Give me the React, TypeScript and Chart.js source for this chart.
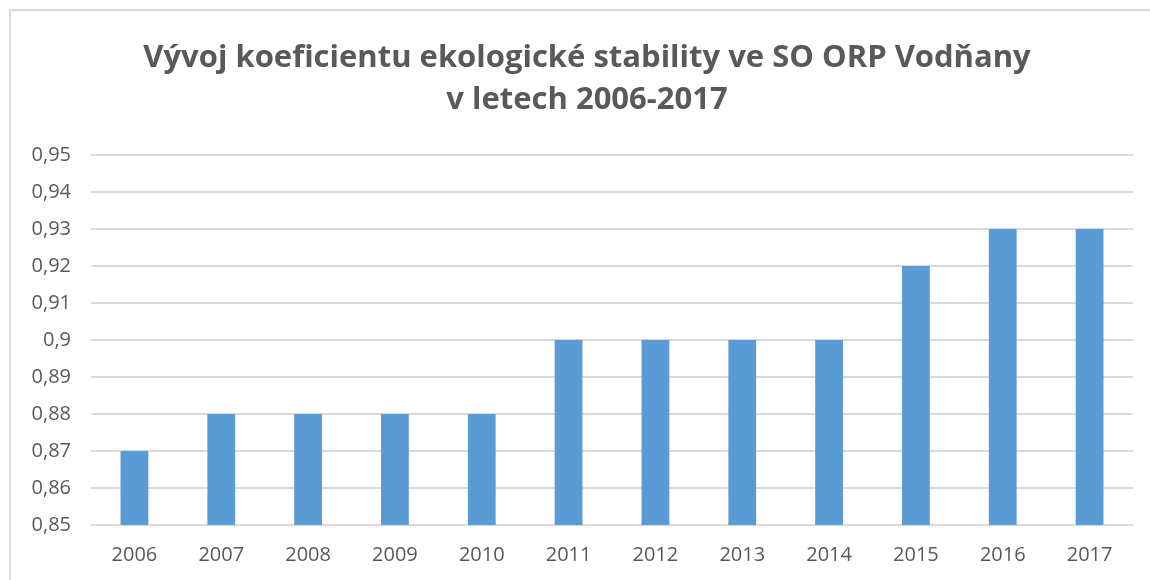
import React, { useEffect, useRef } from "react";
import { Chart, registerables } from "chart.js";

Chart.register(...registerables);

const years = ["2006", "2007", "2008", "2009", "2010", "2011", "2012", "2013", "2014", "2015", "2016", "2017"];
const values = [0.87, 0.88, 0.88, 0.88, 0.88, 0.9, 0.9, 0.9, 0.9, 0.92, 0.93, 0.93];
const titleLines = ["Vývoj koeficientu ekologické stability ve SO ORP Vodňany", "v letech 2006-2017"];
const yMin = 0.85;
const yMax = 0.95;
const yStep = 0.01;

const frame = {
  id: "frame",
  beforeDraw(chart: any) {
    const ctx = chart.ctx;
    ctx.save();
    ctx.fillStyle = "#ffffff";
    ctx.fillRect(0, 0, chart.width, chart.height);
    ctx.strokeStyle = "#d9d9d9";
    ctx.lineWidth = 2;
    ctx.beginPath();
    ctx.moveTo(10, chart.height);
    ctx.lineTo(10, 10);
    ctx.lineTo(chart.width, 10);
    ctx.stroke();
    ctx.restore();
  },
  afterDraw(chart: any) {
    const ctx = chart.ctx;
    ctx.save();
    ctx.fillStyle = "#595959";
    ctx.font = "bold 31px 'Open Sans'";
    ctx.textAlign = "center";
    ctx.textBaseline = "middle";
    titleLines.forEach((line, i) => ctx.fillText(line, 587, 58 + i * 42));
    ctx.restore();
  },
};

export default function App() {
  const ref = useRef<HTMLCanvasElement | null>(null);
  useEffect(() => {
    document.body.style.margin = "0";
    const chart = new Chart(ref.current!, {
      type: "bar",
      data: {
        labels: years,
        datasets: [
          {
            data: values,
            backgroundColor: "#5b9bd5",
            barPercentage: 0.32,
            categoryPercentage: 1,
          },
        ],
      },
      plugins: [frame],
      options: {
        animation: false,
        responsive: false,
        layout: { padding: { left: 10, right: 17, top: 155, bottom: 13 } },
        plugins: {
          legend: { display: false },
          tooltip: { enabled: false },
          title: { display: false },
        },
        scales: {
          x: {
            afterFit(scale: any) {
              scale.height = 42;
            },
            grid: { display: false, drawTicks: false },
            border: { display: false },
            ticks: { color: "#595959", font: { family: "'Open Sans'", size: 20 }, padding: 18 },
          },
          y: {
            min: yMin,
            max: yMax,
            afterFit(scale: any) {
              scale.width = 81;
            },
            grid: { color: "#d9d9d9", lineWidth: 2, drawTicks: false },
            border: { display: false },
            ticks: {
              stepSize: yStep,
              color: "#595959",
              font: { family: "'Open Sans'", size: 20 },
              padding: 20,
              callback: (v: any) => String(Math.round(Number(v) * 100) / 100).replace(".", ","),
            },
          },
        },
      },
    });
    return () => chart.destroy();
  }, []);
  return <canvas ref={ref} width={1150} height={580} style={{ display: "block" }} />;
}
